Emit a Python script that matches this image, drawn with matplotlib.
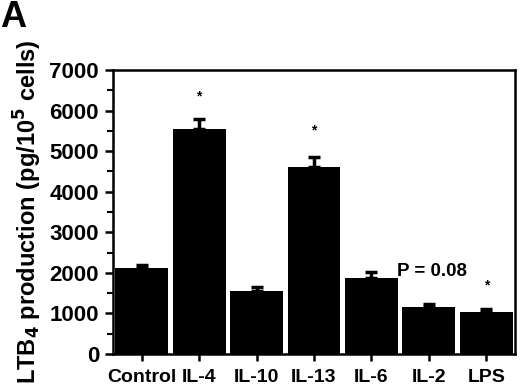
import matplotlib.pyplot as plt
import numpy as np
from matplotlib.ticker import MultipleLocator

# datos
grupos = ["Control", "IL-4", "IL-10", "IL-13", "IL-6", "IL-2", "LPS"]
ltb4 = [2120, 5550, 1550, 4610, 1880, 1150, 1030]
error = [80, 240, 110, 240, 140, 80, 80]
asteriscos = {"IL-4": 6350, "IL-13": 5520, "LPS": 1700}

plt.rcParams['font.family'] = ['Liberation Sans', 'DejaVu Sans']
plt.rcParams['font.weight'] = 'bold'

fig = plt.figure(figsize=(5.2, 3.87), dpi=100)
ax = fig.add_axes([113 / 520, 1 - 354 / 387, 402 / 520, 284 / 387])

x = np.arange(len(grupos))
ax.bar(x, ltb4, width=0.92, color="black")
ax.errorbar(x, ltb4, yerr=[np.zeros(len(error)), error], fmt="none",
            ecolor="black", elinewidth=2.5, capsize=4, capthick=2.5)

for g, y in asteriscos.items():
    ax.text(grupos.index(g), y, "*", ha="center", va="center", fontsize=10)
ax.text(4.45, 2030, "P = 0.08", ha="left", va="center", fontsize=13.5)

ax.set_xlim(-0.5, len(grupos) - 0.5)
ax.set_ylim(0, 7000)
ax.set_xticks(x)
ax.set_xticklabels(grupos, fontsize=14, fontweight="bold")
ax.yaxis.set_major_locator(MultipleLocator(1000))
ax.yaxis.set_minor_locator(MultipleLocator(500))
ax.tick_params(axis="y", labelsize=16, width=1.8, length=6, direction="out", pad=4)
ax.tick_params(axis="y", which="minor", width=1.5, length=4)
ax.tick_params(axis="x", width=1.8, length=5, pad=6)
for s in ax.spines.values():
    s.set_linewidth(1.8)
ax.set_ylabel("LTB$_\\mathbf{4}$ production (pg/10$^\\mathbf{5}$ cells)",
              fontsize=17, fontweight="bold", labelpad=4)

fig.text(0.0, 1.0, "A", fontsize=26, fontweight="bold", ha="left", va="top")

plt.savefig("out.png", dpi=100)
